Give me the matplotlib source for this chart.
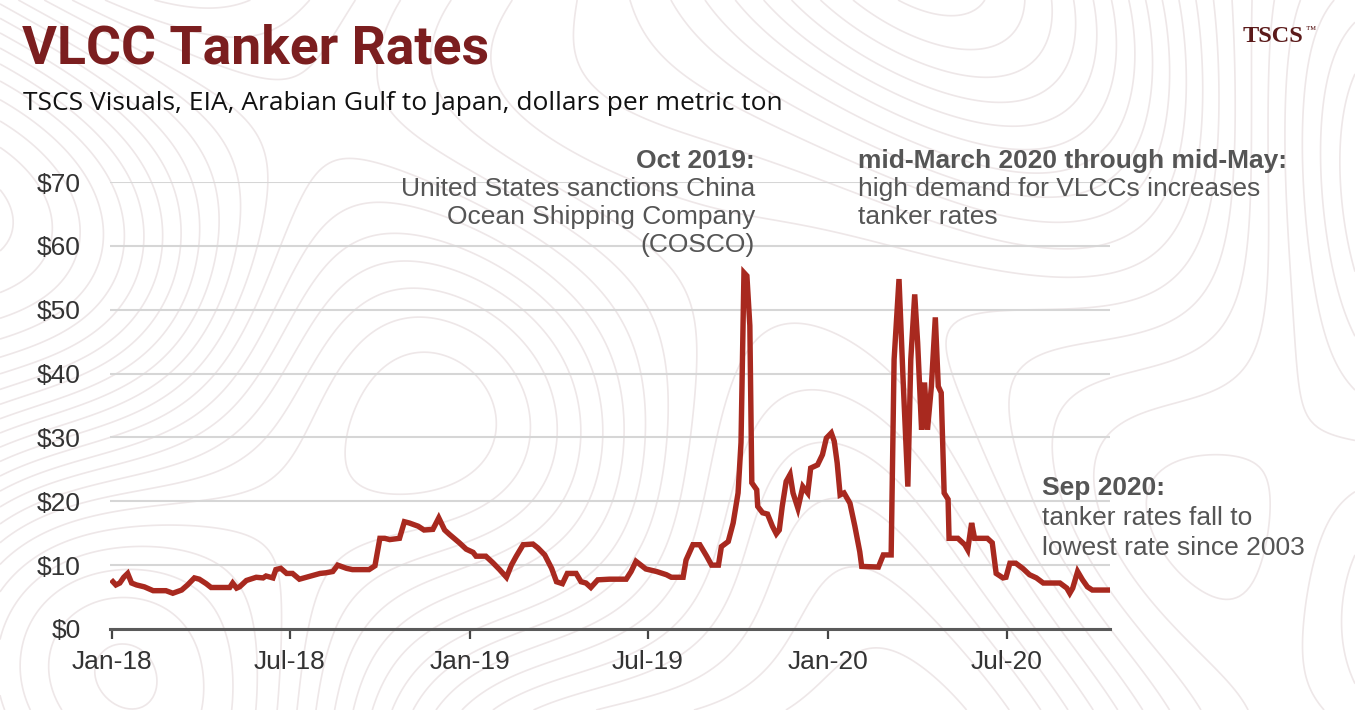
import matplotlib
matplotlib.use("Agg")
import matplotlib.pyplot as plt
import numpy as np
import pandas as pd

# ---------------- data ----------------
dates = [
    "2018-01-02", "2018-01-05", "2018-01-09", "2018-01-13", "2018-01-17", "2018-01-21",
    "2018-01-26", "2018-02-03", "2018-02-12", "2018-02-25", "2018-03-04", "2018-03-13",
    "2018-03-19", "2018-03-26", "2018-03-31", "2018-04-07", "2018-04-12", "2018-05-01",
    "2018-05-04", "2018-05-08", "2018-05-11", "2018-05-18", "2018-05-28", "2018-06-04",
    "2018-06-07", "2018-06-14", "2018-06-17", "2018-06-22", "2018-06-28", "2018-07-04",
    "2018-07-11", "2018-07-18", "2018-07-25", "2018-08-01", "2018-08-07", "2018-08-14",
    "2018-08-19", "2018-08-28", "2018-09-03", "2018-09-20", "2018-09-26", "2018-10-01",
    "2018-10-06", "2018-10-11", "2018-10-21", "2018-10-26", "2018-10-31", "2018-11-09",
    "2018-11-15", "2018-11-24", "2018-11-30", "2018-12-06", "2018-12-11", "2018-12-21",
    "2018-12-28", "2019-01-04", "2019-01-07", "2019-01-17", "2019-01-24", "2019-01-31",
    "2019-02-07", "2019-02-12", "2019-02-17", "2019-02-24", "2019-03-06", "2019-03-11",
    "2019-03-18", "2019-03-25", "2019-03-30", "2019-04-05", "2019-04-10", "2019-04-19",
    "2019-04-24", "2019-04-29", "2019-05-04", "2019-05-11", "2019-05-23", "2019-06-09",
    "2019-06-14", "2019-06-19", "2019-06-24", "2019-06-29", "2019-07-10", "2019-07-20",
    "2019-07-25", "2019-08-06", "2019-08-09", "2019-08-16", "2019-08-23", "2019-08-30",
    "2019-09-04", "2019-09-11", "2019-09-14", "2019-09-21", "2019-09-26", "2019-10-01",
    "2019-10-04", "2019-10-07", "2019-10-10", "2019-10-13", "2019-10-15", "2019-10-20",
    "2019-10-21", "2019-10-26", "2019-10-31", "2019-11-05", "2019-11-09", "2019-11-12",
    "2019-11-15", "2019-11-19", "2019-11-23", "2019-11-26", "2019-12-01", "2019-12-06",
    "2019-12-11", "2019-12-14", "2019-12-21", "2019-12-26", "2019-12-30", "2020-01-04",
    "2020-01-07", "2020-01-10", "2020-01-13", "2020-01-17", "2020-01-23", "2020-01-28",
    "2020-02-02", "2020-02-04", "2020-02-21", "2020-02-26", "2020-03-05", "2020-03-08",
    "2020-03-13", "2020-03-17", "2020-03-22", "2020-03-25", "2020-03-29", "2020-04-01",
    "2020-04-05", "2020-04-08", "2020-04-11", "2020-04-15", "2020-04-19", "2020-04-22",
    "2020-04-25", "2020-04-28", "2020-05-02", "2020-05-03", "2020-05-12", "2020-05-19",
    "2020-05-22", "2020-05-26", "2020-05-29", "2020-06-11", "2020-06-16", "2020-06-20",
    "2020-06-27", "2020-06-30", "2020-07-04", "2020-07-10", "2020-07-17", "2020-07-24",
    "2020-07-31", "2020-08-07", "2020-08-24", "2020-08-31", "2020-09-03", "2020-09-06",
    "2020-09-11", "2020-09-16", "2020-09-21", "2020-09-26", "2020-10-12",
]
rates = [
    7.4, 6.9, 7.2, 8.1, 8.7, 7.2,
    6.9, 6.6, 6.0, 6.0, 5.6, 6.1,
    6.9, 8.0, 7.8, 7.1, 6.5, 6.5,
    7.2, 6.4, 6.6, 7.6, 8.1, 8.0,
    8.3, 8.0, 9.3, 9.5, 8.7, 8.7,
    7.8, 8.1, 8.4, 8.7, 8.8, 9.0,
    10.0, 9.5, 9.3, 9.3, 9.9, 14.2,
    14.2, 14.0, 14.2, 16.8, 16.6, 16.1,
    15.5, 15.6, 17.4, 15.5, 14.8, 13.5,
    12.5, 12.0, 11.4, 11.4, 10.4, 9.3,
    8.1, 10.0, 11.4, 13.2, 13.3, 12.7,
    11.6, 9.5, 7.4, 7.1, 8.7, 8.7,
    7.4, 7.2, 6.5, 7.7, 7.8, 7.8,
    9.0, 10.6, 10.0, 9.4, 9.0, 8.5,
    8.1, 8.1, 10.8, 13.2, 13.2, 11.4,
    10.0, 10.0, 12.9, 13.7, 16.6, 21.3,
    29.2, 55.8, 55.3, 47.5, 22.9, 21.8,
    19.2, 18.2, 18.0, 16.1, 14.9, 15.5,
    19.2, 23.1, 24.2, 21.3, 18.9, 22.3,
    21.3, 25.2, 25.7, 27.3, 29.9, 30.7,
    29.4, 26.0, 21.0, 21.3, 19.7, 16.1,
    12.1, 9.8, 9.7, 11.6, 11.6, 42.2,
    54.8, 39.6, 22.3, 42.2, 52.4, 44.8,
    31.2, 38.6, 31.2, 38.0, 48.8, 38.0,
    37.0, 21.3, 20.3, 14.2, 14.2, 13.2,
    12.4, 16.6, 14.2, 14.2, 13.5, 8.7,
    8.0, 8.1, 10.3, 10.3, 9.5, 8.5,
    8.0, 7.2, 7.2, 6.4, 5.6, 6.4,
    9.0, 7.7, 6.6, 6.1, 6.1,
]
y_ticks = [0, 10, 20, 30, 40, 50, 60, 70]
y_tick_labels = ["$0", "$10", "$20", "$30", "$40", "$50", "$60", "$70"]
x_ticks = ["2018-01-01", "2018-07-01", "2019-01-01", "2019-07-01", "2020-01-01", "2020-07-01"]
x_tick_labels = ["Jan-18", "Jul-18", "Jan-19", "Jul-19", "Jan-20", "Jul-20"]

title = "VLCC Tanker Rates"
subtitle = "TSCS Visuals, EIA, Arabian Gulf to Japan, dollars per metric ton"
ann1_head = "Oct 2019:"
ann1_body = ["United States sanctions China", "Ocean Shipping Company", "(COSCO)"]
ann2_head = "mid-March 2020 through mid-May:"
ann2_body = ["high demand for VLCCs increases", "tanker rates"]
ann3_head = "Sep 2020:"
ann3_body = ["tanker rates fall to", "lowest rate since 2003"]

# ---------------- figure ----------------
W, H = 1355, 710
fig = plt.figure(figsize=(W / 100, H / 100), dpi=100)
fig.patch.set_facecolor("white")

# decorative faint topographic background
bg = fig.add_axes([0, 0, 1, 1], zorder=0)
gx, gy = np.meshgrid(np.linspace(0, 13.55, 400), np.linspace(0, 7.1, 220))
field = (np.sin(gx * 0.55 + 0.8 * np.cos(gy * 0.6)) * 1.2
         + np.cos(gy * 0.7 - gx * 0.25) * 0.9
         + 0.35 * np.sin(gx * 1.1 + gy * 0.9))
bg.contour(gx, gy, field, levels=30, colors="#eee7e8", linewidths=1.2, linestyles="solid")
bg.set_xlim(0, 13.55)
bg.set_ylim(0, 7.1)
bg.axis("off")

# main axes: x from px 110 to 1110, y from px 629 ($0) to 182 ($70)
ax = fig.add_axes([110 / W, (H - 629) / H, 1000 / W, (629 - 182) / H], zorder=2)
ax.patch.set_alpha(0)

d = pd.to_datetime(dates)
ax.plot(d, rates, color="#A8291F", linewidth=3.9, solid_joinstyle="miter", zorder=3)

ax.set_ylim(0, 70)
ax.set_xlim(pd.Timestamp("2017-12-30"), pd.Timestamp("2020-10-14"))
ax.set_yticks(y_ticks)
ax.set_yticklabels(y_tick_labels)
ax.set_xticks(pd.to_datetime(x_ticks))
ax.set_xticklabels(x_tick_labels)

for lab in ax.get_yticklabels() + ax.get_xticklabels():
    lab.set_fontfamily(["Liberation Sans", "DejaVu Sans"])
    lab.set_fontsize(19)
    lab.set_color("#333333")

ax.tick_params(axis="y", length=0, pad=21)
ax.tick_params(axis="x", length=7, width=1.6, color="#444444", direction="out", pad=8)

for s in ["left", "right", "top"]:
    ax.spines[s].set_visible(False)
ax.spines["bottom"].set_color("#5a5a5a")
ax.spines["bottom"].set_linewidth(2.2)
ax.grid(axis="y", color="#d6d6d6", linewidth=1.5)
ax.set_axisbelow(True)

# ---------------- text ----------------
fig.text(22 / W, 1 - 49 / H, title, fontsize=38.5, fontweight="bold", color="#7B1E1F",
         family=["Roboto", "DejaVu Sans"], va="center", ha="left")
fig.text(23 / W, 1 - 104 / H, subtitle, fontsize=19, color="#111111",
         family=["Open Sans", "DejaVu Sans"], va="center", ha="left")
logo = fig.text(1243 / W, 1 - 36 / H, "TSCS", fontsize=17.5, fontweight="bold", color="#5b1a1a",
                family=["Liberation Serif", "DejaVu Serif"], va="center", ha="left")
fig.canvas.draw()
bb = logo.get_window_extent(renderer=fig.canvas.get_renderer())
fig.text((bb.x1 + 1.5) / W, (bb.y1 - 1) / H, "\u2122", fontsize=7.5, color="#5b1a1a",
         family=["Liberation Serif", "DejaVu Serif"], va="top", ha="left")

ann_font = ["Liberation Sans", "DejaVu Sans"]
ann_color = "#555555"

def annotate(x, y0, head, body, ha, spacing=28):
    fig.text(x / W, 1 - y0 / H, head, fontsize=19, fontweight="bold", color=ann_color,
             family=ann_font, ha=ha, va="center")
    for i, line in enumerate(body):
        fig.text(x / W, 1 - (y0 + spacing * (i + 1)) / H, line, fontsize=19, color=ann_color,
                 family=ann_font, ha=ha, va="center")

annotate(755, 161, ann1_head, ann1_body, "right")
annotate(858, 161, ann2_head, ann2_body, "left")
annotate(1042, 488, ann3_head, ann3_body, "left", spacing=30)

fig.savefig("out.png", dpi=100, facecolor="white")
